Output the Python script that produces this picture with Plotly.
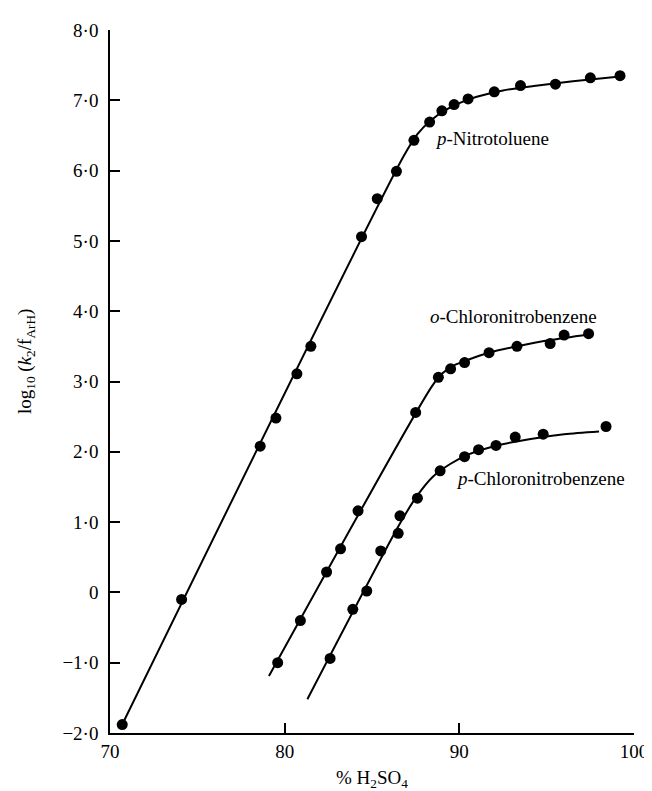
import plotly.graph_objects as go

# --- data ---
pnt_x = [70.7, 74.1, 78.6, 79.5, 80.7, 81.5, 84.4, 85.3, 86.4, 87.4, 88.3, 89.0, 89.7, 90.5, 92.0, 93.5, 95.5, 97.5, 99.2]
pnt_y = [-1.88, -0.10, 2.08, 2.48, 3.11, 3.50, 5.06, 5.60, 5.99, 6.43, 6.69, 6.85, 6.94, 7.02, 7.12, 7.21, 7.23, 7.32, 7.35]
pnt_curve_x = [70.7, 86.8, 87.6, 88.4, 89.2, 90.0, 91.0, 92.5, 94.5, 96.5, 99.2]
pnt_curve_y = [-1.88, 6.20, 6.52, 6.72, 6.86, 6.96, 7.05, 7.14, 7.21, 7.27, 7.34]

ocnb_x = [79.6, 80.9, 82.4, 83.2, 84.2, 87.5, 88.8, 89.5, 90.3, 91.7, 93.3, 95.2, 96.0, 97.4]
ocnb_y = [-1.00, -0.40, 0.29, 0.62, 1.16, 2.56, 3.06, 3.18, 3.27, 3.41, 3.50, 3.54, 3.66, 3.68]
ocnb_curve_x = [79.1, 88.4, 89.0, 89.7, 90.5, 91.7, 93.3, 95.2, 97.4]
ocnb_curve_y = [-1.19, 2.92, 3.11, 3.23, 3.31, 3.41, 3.50, 3.59, 3.67]

pcnb_x = [82.6, 83.9, 84.7, 85.5, 86.5, 86.6, 87.6, 88.9, 90.3, 91.1, 92.1, 93.2, 94.8, 98.4]
pcnb_y = [-0.94, -0.24, 0.02, 0.59, 0.84, 1.09, 1.34, 1.73, 1.93, 2.03, 2.09, 2.21, 2.25, 2.36]
pcnb_curve_x = [81.3, 86.6, 87.6, 88.5, 89.5, 90.5, 92.0, 94.0, 96.0, 98.0]
pcnb_curve_y = [-1.52, 0.98, 1.38, 1.65, 1.83, 1.96, 2.08, 2.18, 2.25, 2.29]

x_ticks = [70, 80, 90, 100]
x_tick_labels = ["70", "80", "90", "100"]
y_ticks = [8, 7, 6, 5, 4, 3, 2, 1, 0, -1, -2]
y_tick_labels = ["8·0", "7·0", "6·0", "5·0", "4·0", "3·0", "2·0", "1·0", "0", "−1·0", "−2·0"]

labels = ["<i>p</i>-Nitrotoluene", "<i>o</i>-Chloronitrobenzene", "<i>p</i>-Chloronitrobenzene"]
label_x = [88.5, 88.2, 89.7]
label_y = [6.45, 3.92, 1.62]

FONT = "Liberation Serif"
FS = 19

fig = go.Figure()
for cx, cy in [(pnt_curve_x, pnt_curve_y), (ocnb_curve_x, ocnb_curve_y), (pcnb_curve_x, pcnb_curve_y)]:
    fig.add_trace(go.Scatter(x=cx, y=cy, mode="lines",
                             line=dict(color="black", width=2, shape="spline", smoothing=0.8),
                             hoverinfo="skip", showlegend=False))
for px, py in [(pnt_x, pnt_y), (ocnb_x, ocnb_y), (pcnb_x, pcnb_y)]:
    fig.add_trace(go.Scatter(x=px, y=py, mode="markers",
                             marker=dict(color="black", size=11),
                             showlegend=False))

for t, lx, ly in zip(labels, label_x, label_y):
    fig.add_annotation(x=lx, y=ly, text=t, showarrow=False, xanchor="left", yanchor="middle",
                       font=dict(family=FONT, size=FS, color="black"))

fig.add_annotation(xref="paper", yref="paper", x=-0.16, y=0.528,
                   text="log<sub>10</sub> (<i>k</i><sub>2</sub>/f<sub>ArH</sub>)",
                   textangle=-90, showarrow=False, xanchor="center", yanchor="middle",
                   font=dict(family=FONT, size=FS, color="black"))
fig.add_annotation(xref="paper", yref="paper", x=0.5, y=-0.066,
                   text="% H<sub>2</sub>SO<sub>4</sub>", showarrow=False,
                   xanchor="center", yanchor="middle",
                   font=dict(family=FONT, size=FS, color="black"))

fig.update_xaxes(range=[70, 100], tickvals=x_ticks, ticktext=x_tick_labels,
                 showline=True, linecolor="black", linewidth=1.5, mirror=False,
                 ticks="inside", ticklen=10, tickcolor="black", tickwidth=1.5,
                 showgrid=False, zeroline=False,
                 tickfont=dict(family=FONT, size=FS, color="black"))
fig.update_yaxes(range=[-2, 8], tickvals=y_ticks, ticktext=y_tick_labels,
                 showline=True, linecolor="black", linewidth=1.5, mirror=False,
                 ticks="inside", ticklen=10, tickcolor="black", tickwidth=1.5,
                 showgrid=False, zeroline=False, ticklabelstandoff=6,
                 tickfont=dict(family=FONT, size=FS, color="black"))

fig.update_layout(width=652, height=791, plot_bgcolor="white", paper_bgcolor="white",
                  margin=dict(l=102, r=17, t=20, b=66), showlegend=False)

fig.write_html("out.html")
